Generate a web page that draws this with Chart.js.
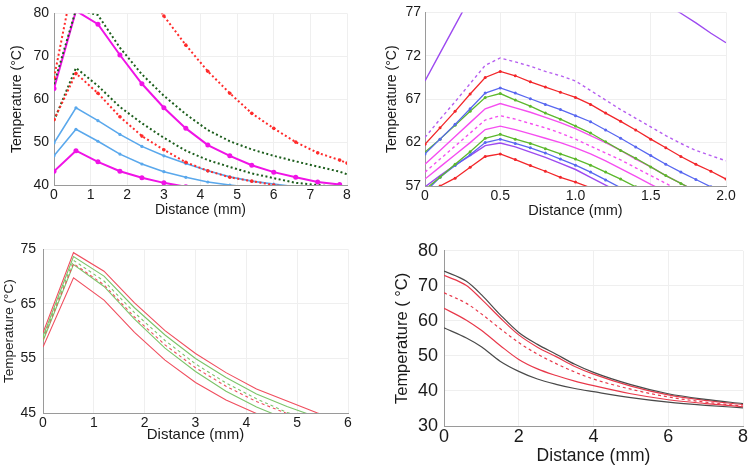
<!DOCTYPE html>
<html>
<head>
<meta charset="utf-8">
<script src="https://cdn.jsdelivr.net/npm/chart.js@4.4.1/dist/chart.umd.min.js"></script>
<style>
  html, body { margin: 0; padding: 0; background: #fff; }
  body { width: 750px; height: 468px; position: relative; overflow: hidden; }
  .panel { position: absolute; width: 375px; height: 234px; }
  .panel canvas { display: block; }
</style>
</head>
<body>
<div class="panel" style="left:0;top:0"><canvas id="p1" width="375" height="234"></canvas></div>
<div class="panel" style="left:375px;top:0"><canvas id="p2" width="375" height="234"></canvas></div>
<div class="panel" style="left:0;top:234px"><canvas id="p3" width="375" height="234"></canvas></div>
<div class="panel" style="left:375px;top:234px"><canvas id="p4" width="375" height="234"></canvas></div>
<script>
const FONT = "'Liberation Sans', Arial, Helvetica, sans-serif";
const NARROW = "'Liberation Sans Narrow', 'Liberation Sans', Arial, sans-serif";

// ---- panel 1 (top left) ----
const p1X = [0, 0.6, 1.2, 1.8, 2.4, 3.0, 3.6, 4.2, 4.8, 5.4, 6.0, 6.6, 7.2, 7.8, 8.0];
const p1MagentaHi = [62.5, 80.6, 77.5, 70.3, 63.6, 58.0, 53.2, 49.3, 46.8, 44.6, 43.0, 41.8, 40.7, 40.1, null];
const p1MagentaLo = [43.2, 48.0, 45.4, 43.2, 41.7, 40.5, 39.6, 39.0, null, null, null, null, null, null, null];
const p1BlueHi = [49.8, 58.0, 55.0, 51.8, 49.0, 46.8, 45.0, 43.3, 41.9, 40.9, 40.2, 39.6, 39.1, null, null];
const p1BlueLo = [46.8, 53.0, 50.2, 47.2, 44.9, 43.1, 41.8, 40.7, 40.0, 39.4, null, null, null, null, null];
const p1RedDotHi = [65.0, 90.7, 96.0, 93.0, 87.0, 79.4, 72.6, 66.5, 61.4, 56.7, 53.2, 50.0, 47.5, 45.8, 45.1];
const p1RedDotLo = [55.2, 66.0, 61.4, 55.9, 51.4, 48.2, 45.3, 43.3, 41.8, 40.9, 40.0, 39.3, null, null, null];
const p1GreenDotHi = [63.5, 80.9, 79.6, 72.0, 65.8, 60.8, 56.5, 52.8, 50.2, 48.3, 46.8, 45.5, 44.3, 43.1, 42.5];
const p1GreenDotLo = [55.0, 67.3, 63.1, 58.2, 54.4, 51.0, 48.0, 45.8, 44.2, 42.7, 41.6, 40.5, 40.0, 39.4, null];

// ---- panel 2 (top right) ----
const p2X = [0, 0.1, 0.2, 0.3, 0.4, 0.5, 0.6, 0.7, 0.8, 0.9, 1.0, 1.1, 1.2, 1.3, 1.4, 1.5, 1.6, 1.7, 1.8, 1.9, 2.0];
const p2XTickLabels = ['0', '0.5', '1.0', '1.5', '2.0'];
const p2PurpleTop = [69.1, 72.3, 75.5, 78.7, 81.8, 83.0, 82.8, 82.5, 82.2, 81.8, 81.4, 80.9, 80.3, 79.7, 79.1, 78.5, 77.9, 76.9, 75.8, 74.6, 73.5];
const p2PurpleDash = [62.6, 64.7, 66.7, 68.8, 70.9, 71.75, 71.3, 70.8, 70.2, 69.7, 69.1, 68.0, 66.9, 65.8, 64.8, 63.8, 62.8, 61.9, 61.1, 60.5, 59.9];
const p2RedHi = [61.8, 63.7, 65.6, 67.6, 69.5, 70.2, 69.7, 69.0, 68.4, 67.8, 67.2, 66.4, 65.4, 64.45, 63.45, 62.4, 61.4, 60.4, 59.5, 58.7, 57.8];
const p2BlueHi = [60.7, 62.4, 64.1, 65.9, 67.7, 68.3, 67.7, 67.05, 66.4, 65.8, 65.1, 64.4, 63.45, 62.5, 61.5, 60.5, 59.5, 58.6, 57.75, 56.9, 56.2];
const p2GreenHi = [60.9, 62.4, 64.0, 65.6, 67.2, 67.65, 66.9, 66.2, 65.4, 64.7, 63.9, 63.1, 62.1, 61.1, 60.2, 59.2, 58.2, 57.3, 56.4, null, null];
const p2MagentaHi = [59.5, 61.1, 62.7, 64.3, 65.9, 66.5, 66.0, 65.5, 64.9, 64.3, 63.6, 62.8, 62.0, 61.1, 60.1, 59.2, 58.2, 57.3, 56.4, null, null];
const p2MagentaDash = [58.6, 60.1, 61.6, 63.1, 64.6, 65.1, 64.7, 64.2, 63.7, 63.1, 62.4, 61.6, 60.8, 60.0, 59.1, 58.2, 57.3, 56.4, null, null, null];
const p2MagentaLo = [57.8, 59.2, 60.6, 62.0, 63.5, 63.9, 63.5, 63.0, 62.5, 62.0, 61.4, 60.7, 59.9, 59.0, 58.1, 57.2, 56.3, null, null, null, null];
const p2GreenLo = [56.6, 58.0, 59.5, 60.95, 62.5, 62.95, 62.4, 61.9, 61.3, 60.7, 60.1, 59.4, 58.6, 57.8, 56.9, null, null, null, null, null, null];
const p2BlueLo = [56.3, 58.0, 59.35, 60.6, 62.0, 62.4, 61.9, 61.4, 60.8, 60.1, 59.4, 58.6, 57.7, 56.8, null, null, null, null, null, null, null];
const p2PurpleLo = [56.9, 58.2, 59.4, 60.5, 61.65, 61.95, 61.5, 60.9, 60.3, 59.6, 58.9, 58.0, 57.1, 56.2, null, null, null, null, null, null, null];
const p2RedLo = [55.8, 57.0, 57.9, 59.15, 60.4, 60.7, 60.05, 59.35, 58.7, 58.0, 57.45, 56.8, null, null, null, null, null, null, null, null, null];

// ---- panel 3 (bottom left) ----
const p3X = [0, 0.6, 1.2, 1.8, 2.4, 3.0, 3.6, 4.2, 4.8, 5.4, 6.0];
const p3RedHi = [59.7, 74.4, 71.0, 65.2, 60.1, 55.9, 52.4, 49.4, 47.2, 45.0, 43.2];
const p3GreenHi = [59.0, 73.7, 70.1, 64.3, 59.3, 55.0, 51.5, 48.5, 46.2, 44.2, null];
const p3GreenDash = [58.7, 73.0, 69.2, 63.4, 58.3, 54.0, 50.5, 47.6, 45.1, 43.3, null];
const p3RedDash = [58.5, 72.4, 68.5, 62.6, 57.5, 53.3, 49.9, 47.1, 44.9, null, null];
const p3GreenLo = [58.2, 72.2, 68.2, 62.2, 56.9, 52.6, 49.0, 46.1, 43.8, null, null];
const p3RedLo = [57.1, 69.8, 65.7, 59.8, 54.7, 50.6, 47.4, 44.9, 42.9, null, null];

// ---- panel 4 (bottom right) ----
const p4X = [0, 0.6, 1, 1.5, 2, 2.5, 3, 3.5, 4, 5, 6, 7, 8];
const p4BlackHi = [74.2, 71.3, 67.5, 61.8, 56.7, 53.3, 50.5, 47.6, 45.3, 41.8, 39.2, 37.6, 36.4];
const p4RedHi = [73.0, 70.1, 66.2, 60.9, 56.0, 52.5, 49.8, 47.0, 44.8, 41.4, 38.9, 37.3, 36.1];
const p4RedDash = [68.0, 65.0, 62.0, 57.8, 53.8, 50.5, 47.8, 45.4, 43.4, 40.5, 38.3, 36.8, 35.7];
const p4RedLo = [63.6, 60.2, 57.3, 53.0, 49.0, 46.3, 44.4, 42.8, 41.5, 39.2, 37.5, 36.4, 35.5];
const p4BlackLo = [58.0, 55.1, 52.6, 48.5, 45.6, 43.4, 41.9, 40.7, 39.8, 38.1, 36.8, 35.9, 35.2];

function series(xs, ys, color, extra) {
  return Object.assign({
    data: xs.map((x, i) => ({ x: x, y: ys[i] })),
    borderColor: color,
    backgroundColor: color,
    borderWidth: 1.5,
    pointRadius: 0,
    pointBorderWidth: 0,
    fill: false,
    tension: 0
  }, extra || {});
}

function makeChart(id, o) {
  return new Chart(document.getElementById(id), {
    type: 'line',
    data: { datasets: o.datasets },
    options: {
      responsive: false,
      animation: false,
      devicePixelRatio: 1,
      layout: { padding: o.pad },
      plugins: { legend: { display: false }, tooltip: { enabled: false } },
      scales: {
        x: {
          type: 'linear',
          min: o.xMin, max: o.xMax,
          afterFit: s => { s.height = o.xH; },
          border: { color: '#9a9a9a', width: 1 },
          grid: { color: '#efefef', drawTicks: false },
          ticks: {
            stepSize: o.xStep, padding: o.xTickPad, autoSkip: false, maxRotation: 0,
            color: '#1a1a1a', font: { family: FONT, size: o.tickSize },
            callback: o.xCallback || (v => String(v))
          },
          title: {
            display: true, text: 'Distance (mm)', color: '#1a1a1a',
            font: { family: FONT, size: o.xTitleSize },
            padding: { top: 0, bottom: o.xTitlePad }
          }
        },
        y: {
          type: 'linear',
          min: o.yMin, max: o.yMax,
          afterFit: s => { s.width = o.yW; },
          border: { color: '#9a9a9a', width: 1 },
          grid: { color: '#efefef', drawTicks: false },
          ticks: {
            stepSize: o.yStep, padding: o.yTickPad, autoSkip: false,
            color: '#1a1a1a', font: { family: FONT, size: o.tickSize }
          },
          title: {
            display: true, text: o.yTitle, color: '#1a1a1a',
            font: { family: o.yTitleFamily || FONT, size: o.yTitleSize },
            padding: { top: o.yTitlePad, bottom: 0 }
          }
        }
      }
    }
  });
}

// panel 1
const MAG = '#f013e6', LBLUE = '#5aa8ec', RDOT = '#ff2b2b', GDOT = '#1d5e1d';
makeChart('p1', {
  pad: { top: 9, right: 28, left: 0, bottom: 0 },
  xMin: 0, xMax: 8, xStep: 1, yMin: 40, yMax: 80, yStep: 10,
  xH: 49, yW: 54, tickSize: 14, xTickPad: 2, yTickPad: 5,
  xTitleSize: 14, xTitlePad: 15.6, yTitle: 'Temperature (°C)', yTitleSize: 14,
  yTitleFamily: NARROW, yTitlePad: 8.6,
  datasets: [
    series(p1X, p1RedDotHi, RDOT, { borderDash: [2, 2.5], borderWidth: 2, pointRadius: 1.8 }),
    series(p1X, p1GreenDotHi, GDOT, { borderDash: [2, 2.5], borderWidth: 2 }),
    series(p1X, p1RedDotLo, RDOT, { borderDash: [2, 2.5], borderWidth: 2, pointRadius: 1.8 }),
    series(p1X, p1GreenDotLo, GDOT, { borderDash: [2, 2.5], borderWidth: 2 }),
    series(p1X, p1MagentaHi, MAG, { borderWidth: 2, pointRadius: 2.5 }),
    series(p1X, p1BlueHi, LBLUE, { borderWidth: 1.6, pointRadius: 1.6 }),
    series(p1X, p1BlueLo, LBLUE, { borderWidth: 1.6, pointRadius: 1.6 }),
    series(p1X, p1MagentaLo, MAG, { borderWidth: 2, pointRadius: 2.5 })
  ]
});

// panel 2
const RED2 = '#f2262a', BLUE2 = '#5867f0', GREEN2 = '#5cb82c', MAG2 = '#f54ef0', PURP2 = '#9d4af0', PDASH2 = '#b65ef0';
makeChart('p2', {
  pad: { top: 7, right: 24, left: 0, bottom: 0 },
  xMin: 0, xMax: 2, xStep: 0.5, yMin: 57, yMax: 77, yStep: 5,
  xH: 48, yW: 50, tickSize: 14, xTickPad: 2, yTickPad: 4,
  xCallback: (v) => p2XTickLabels[Math.round(v / 0.5)],
  xTitleSize: 14.5, xTitlePad: 14.3, yTitle: 'Temperature (°C)', yTitleSize: 14, yTitlePad: 8.6,
  datasets: [
    series(p2X, p2PurpleTop, PURP2, { borderWidth: 1.4 }),
    series(p2X, p2PurpleDash, PDASH2, { borderWidth: 1.4, borderDash: [3, 3] }),
    series(p2X, p2RedHi, RED2, { borderWidth: 1.3, pointRadius: 1.5 }),
    series(p2X, p2BlueHi, BLUE2, { borderWidth: 1.3, pointRadius: 1.5 }),
    series(p2X, p2GreenHi, GREEN2, { borderWidth: 1.3, pointRadius: 1.5 }),
    series(p2X, p2MagentaHi, MAG2, { borderWidth: 1.4 }),
    series(p2X, p2MagentaDash, MAG2, { borderWidth: 1.4, borderDash: [3, 3] }),
    series(p2X, p2MagentaLo, MAG2, { borderWidth: 1.4 }),
    series(p2X, p2GreenLo, GREEN2, { borderWidth: 1.3, pointRadius: 1.5 }),
    series(p2X, p2BlueLo, BLUE2, { borderWidth: 1.3, pointRadius: 1.5 }),
    series(p2X, p2PurpleLo, PURP2, { borderWidth: 1.4 }),
    series(p2X, p2RedLo, RED2, { borderWidth: 1.3, pointRadius: 1.5 })
  ]
});

// panel 3
const RED3 = '#f04e5e', GREEN3 = '#7cc46a';
makeChart('p3', {
  pad: { top: 11, right: 27, left: 0, bottom: 0 },
  xMin: 0, xMax: 6, xStep: 1, yMin: 45, yMax: 75, yStep: 10,
  xH: 55, yW: 43, tickSize: 14, xTickPad: 2, yTickPad: 7,
  xTitleSize: 15, xTitlePad: 24, yTitle: 'Temperature (°C)', yTitleSize: 13.5, yTitlePad: 0.9,
  datasets: [
    series(p3X, p3RedHi, RED3, { borderWidth: 1.1 }),
    series(p3X, p3GreenHi, GREEN3, { borderWidth: 1.1 }),
    series(p3X, p3GreenDash, GREEN3, { borderWidth: 1.1, borderDash: [3, 3] }),
    series(p3X, p3RedDash, RED3, { borderWidth: 1.1, borderDash: [3, 3] }),
    series(p3X, p3GreenLo, GREEN3, { borderWidth: 1.1 }),
    series(p3X, p3RedLo, RED3, { borderWidth: 1.1 })
  ]
});

// panel 4
const BLK4 = '#4a4a4a', RED4 = '#e8384a';
makeChart('p4', {
  pad: { top: 12, right: 7, left: 0, bottom: 0 },
  xMin: 0, xMax: 8, xStep: 2, yMin: 30, yMax: 80, yStep: 10,
  xH: 42, yW: 69, tickSize: 18, xTickPad: 0, yTickPad: 6,
  xTitleSize: 17.5, xTitlePad: 1.5, yTitle: 'Temperature ( °C)', yTitleSize: 16.5, yTitlePad: 18,
  datasets: [
    series(p4X, p4BlackHi, BLK4, { borderWidth: 1.2, cubicInterpolationMode: 'monotone' }),
    series(p4X, p4RedHi, RED4, { borderWidth: 1.2, cubicInterpolationMode: 'monotone' }),
    series(p4X, p4RedDash, RED4, { borderWidth: 1.2, borderDash: [3, 3], cubicInterpolationMode: 'monotone' }),
    series(p4X, p4RedLo, RED4, { borderWidth: 1.2, cubicInterpolationMode: 'monotone' }),
    series(p4X, p4BlackLo, BLK4, { borderWidth: 1.2, cubicInterpolationMode: 'monotone' })
  ]
});
</script>
</body>
</html>
